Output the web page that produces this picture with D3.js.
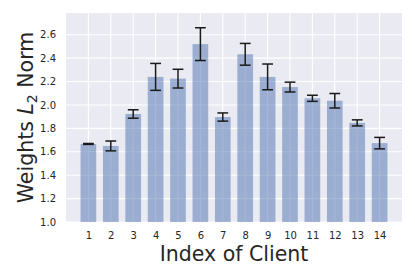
<!DOCTYPE html>
<html>
<head>
<meta charset="utf-8">
<script src="https://cdn.jsdelivr.net/npm/d3@7"></script>
<style>
  html, body { margin: 0; padding: 0; background: #fff; }
  text { font-family: "DejaVu Sans", sans-serif; fill: #262626; }
</style>
</head>
<body>
<div id="chart"></div>
<script>
// client index, mean norm and error (half-width)
const clients = [1, 2, 3, 4, 5, 6, 7, 8, 9, 10, 11, 12, 13, 14];
const norms = [1.667, 1.650, 1.923, 2.240, 2.225, 2.520, 1.897, 2.433, 2.240, 2.153, 2.057, 2.036, 1.847, 1.674];
const errs = [0.004, 0.042, 0.036, 0.115, 0.080, 0.140, 0.035, 0.093, 0.110, 0.042, 0.026, 0.062, 0.026, 0.049];
const yTicks = [1.0, 1.2, 1.4, 1.6, 1.8, 2.0, 2.2, 2.4, 2.6];

const width = 415, height = 277;
const margin = {top: 13, right: 13, bottom: 55, left: 66};

const svg = d3.select("#chart").append("svg")
	.attr("width", width)
	.attr("height", height);

const x = d3.scaleLinear()
	.domain([0, 15])
	.range([margin.left, width - margin.right]);

const y = d3.scaleLinear()
	.domain([1.0, 2.786])
	.range([height - margin.bottom, margin.top]);

// background
svg.append("rect")
	.attr("x", margin.left)
	.attr("y", margin.top)
	.attr("width", x.range()[1] - x.range()[0])
	.attr("height", y.range()[0] - y.range()[1])
	.attr("fill", "#eaeaf2");

// grid
svg.append("g").selectAll("line")
	.data(yTicks).enter()
	.append("line")
	.attr("x1", x.range()[0])
	.attr("x2", x.range()[1])
	.attr("y1", d => y(d))
	.attr("y2", d => y(d))
	.attr("stroke", "#fff")
	.attr("stroke-width", 1.1);

svg.append("g").selectAll("line")
	.data(clients).enter()
	.append("line")
	.attr("x1", d => x(d))
	.attr("x2", d => x(d))
	.attr("y1", y.range()[0])
	.attr("y2", y.range()[1])
	.attr("stroke", "#fff")
	.attr("stroke-width", 1.1);

// bars
const barW = x(0.7) - x(0);
svg.append("g").selectAll("rect")
	.data(clients).enter()
	.append("rect")
	.attr("x", d => x(d) - barW / 2)
	.attr("y", (d, i) => y(norms[i]))
	.attr("width", barW)
	.attr("height", (d, i) => y(1.0) - y(norms[i]))
	.attr("fill", "#4c72b0")
	.attr("fill-opacity", 0.5);

// error bars
const cap = 5.4;
const eb = svg.append("g")
	.attr("stroke", "#1a1a1a")
	.attr("stroke-width", 1.5);
clients.forEach((c, i) => {
	const cx = x(c), lo = y(norms[i] - errs[i]), hi = y(norms[i] + errs[i]);
	eb.append("line").attr("x1", cx).attr("x2", cx).attr("y1", lo).attr("y2", hi);
	eb.append("line").attr("x1", cx - cap).attr("x2", cx + cap).attr("y1", lo).attr("y2", lo);
	eb.append("line").attr("x1", cx - cap).attr("x2", cx + cap).attr("y1", hi).attr("y2", hi);
});

// axes
const xAxis = g => g
	.attr("transform", `translate(0,${y.range()[0]})`)
	.call(d3.axisBottom(x).tickValues(clients).tickSize(0).tickPadding(10))
	.call(g => g.select(".domain").remove());

const yAxis = g => g
	.attr("transform", `translate(${margin.left},0)`)
	.call(d3.axisLeft(y).tickValues(yTicks).tickFormat(d3.format(".1f")).tickSize(0).tickPadding(10))
	.call(g => g.select(".domain").remove());

svg.append("g")
	.style("font", "10px 'DejaVu Sans'")
	.call(xAxis);

svg.append("g")
	.style("font", "10px 'DejaVu Sans'")
	.call(yAxis);

svg.selectAll(".tick text").attr("fill", "#262626");

// axis labels
svg.append("text")
	.attr("x", (x.range()[0] + x.range()[1]) / 2)
	.attr("y", 261)
	.attr("text-anchor", "middle")
	.style("font-size", "20.5px")
	.text("Index of Client");

const yLab = svg.append("text")
	.attr("transform", `translate(33,${(y.range()[0] + y.range()[1]) / 2}) rotate(-90)`)
	.attr("text-anchor", "middle")
	.style("font-size", "20.5px");
yLab.append("tspan").text("Weights ");
yLab.append("tspan").style("font-style", "italic").text("L");
yLab.append("tspan").attr("dy", 4).style("font-size", "14px").text("2");
yLab.append("tspan").attr("dy", -4).text(" Norm");
</script>
</body>
</html>
